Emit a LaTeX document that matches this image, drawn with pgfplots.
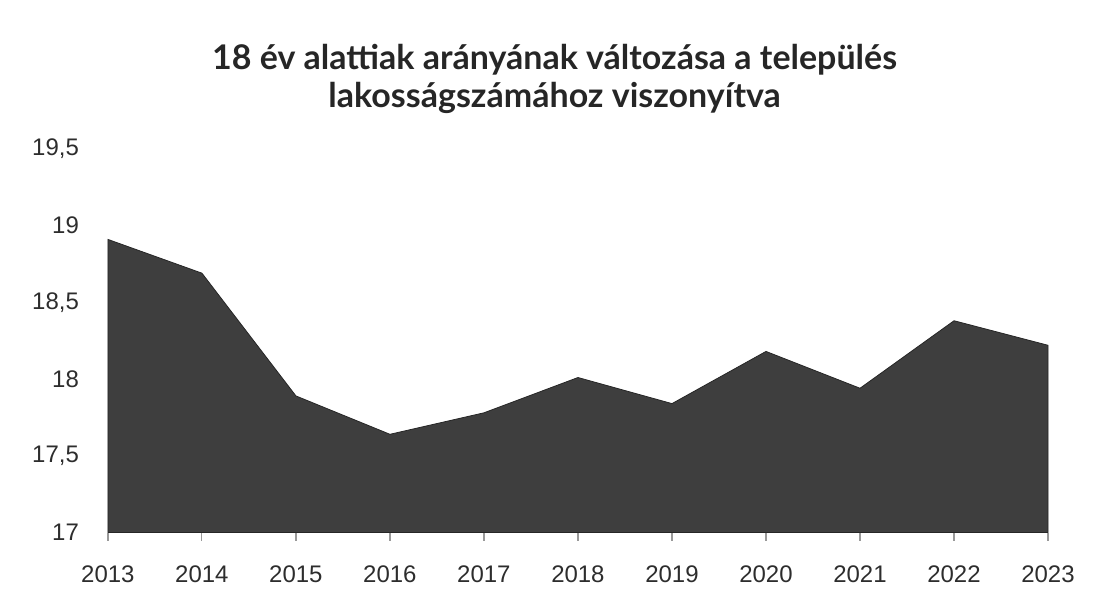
\documentclass[border=0pt]{standalone}
\usepackage{fontspec}
\setmainfont{Liberation Sans}
\newfontfamily\titlefont{Lato}
\usepackage{pgfplots}
\pgfplotsset{compat=1.18}
\definecolor{areagray}{RGB}{62,62,62}
\definecolor{ticktext}{RGB}{45,45,45}
\begin{document}
\begin{tikzpicture}
\begin{axis}[
    scale only axis,
    width=470.5pt, height=192pt,
    xmin=2013, xmax=2023,
    ymin=17, ymax=19.5,
    xtick={2013,2014,...,2023},
    ytick={17,17.5,...,19.5},
    axis y line=none,
    axis x line*=bottom,
    axis line style={draw=black!80},
    x tick style={draw=black!40, line width=0.6pt},
    xtick align=outside,
    major tick length=4pt,
    ymajorgrids=true,
    grid style={draw=black!13, line width=0.6pt},
    xticklabel style={/pgf/number format/1000 sep={}, font=\fontsize{12}{14}\selectfont, text=ticktext, yshift=-9pt},
    /pgf/number format/assume math mode=true,
    clip=false,
]
% y tick labels placed by hand next to the hidden y axis
\pgfplotsinvokeforeach{17,17.5,18,18.5,19,19.5}{
    \node[anchor=east, font=\fontsize{12}{14}\selectfont, text=ticktext]
        at (axis cs:2013,#1) [xshift=-11pt] {\pgfmathprintnumber[use comma]{#1}};
}
\addplot[fill=areagray, draw=black!85, line width=0.4pt] coordinates {
    (2013,18.91) (2014,18.69) (2015,17.89) (2016,17.64) (2017,17.78)
    (2018,18.01) (2019,17.84) (2020,18.18) (2021,17.94) (2022,18.38)
    (2023,18.22)
} \closedcycle;
\end{axis}
\node[align=center, font=\titlefont\bfseries\fontsize{17}{19}\selectfont, text=black!85]
    at (223.5pt,227pt) {18 év alattiak arányának változása a település\\lakosságszámához viszonyítva};
\path (-54pt,-29.5pt) rectangle (498pt,266.5pt);
\end{tikzpicture}
\end{document}
